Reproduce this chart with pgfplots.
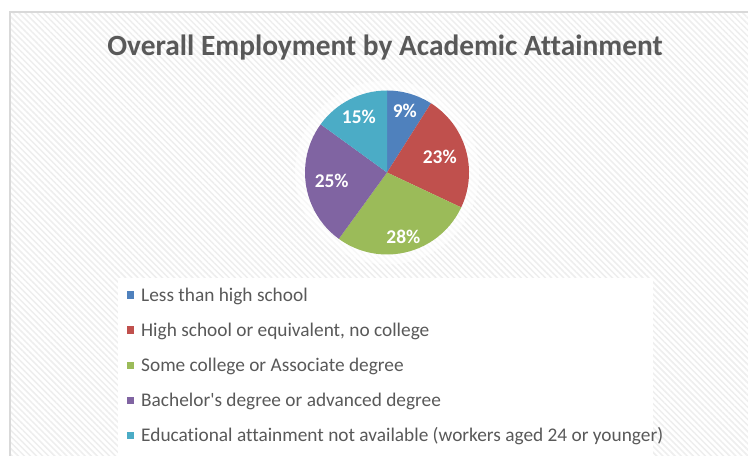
\documentclass[border=0pt]{standalone}
\usepackage{pgfplots}
\pgfplotsset{compat=1.18}
\usepackage{pgfplotstable}
\usetikzlibrary{patterns.meta}
\usepackage{fontspec}
\setmainfont{Carlito}[Ligatures={TeXOff,CommonOff}]

\definecolor{txtgray}{HTML}{595959}
\definecolor{framegray}{HTML}{D9D9D9}
\definecolor{hatch}{HTML}{EEEEEE}
\definecolor{c0}{HTML}{4F81BD}
\definecolor{c1}{HTML}{C0504D}
\definecolor{c2}{HTML}{9BBB59}
\definecolor{c3}{HTML}{8064A2}
\definecolor{c4}{HTML}{4BACC6}

% share in percent; lr = distance of the value label from the centre
\pgfplotstableread{
share lr  name
9     64  {Less than high school}
23    55  {High school or equivalent, no college}
28    66  {Some college or Associate degree}
25    56  {Bachelor's degree or advanced degree}
15    62  {Educational attainment not available (workers aged 24 or younger)}
}\shares

% cumulative start/end angles, clockwise from 12 o'clock
\def\cum{0}
\pgfplotsforeachungrouped \i in {0,...,4}{%
  \pgfplotstablegetelem{\i}{share}\of\shares
  \let\v\pgfplotsretval
  \pgfplotstablegetelem{\i}{lr}\of\shares
  \let\r\pgfplotsretval
  \pgfplotstablegetelem{\i}{name}\of\shares
  \expandafter\let\csname sN\i\endcsname\pgfplotsretval
  \pgfmathsetmacro\a{90-3.6*\cum}
  \pgfmathsetmacro\b{90-3.6*(\cum+\v)}
  \pgfmathsetmacro\m{(\a+\b)/2}
  \expandafter\let\csname sA\i\endcsname\a
  \expandafter\let\csname sB\i\endcsname\b
  \expandafter\let\csname sM\i\endcsname\m
  \expandafter\let\csname sV\i\endcsname\v
  \expandafter\let\csname sR\i\endcsname\r
  \pgfmathsetmacro\cum{\cum+\v}%
}
\newcommand\sA[1]{\csname sA#1\endcsname}
\newcommand\sB[1]{\csname sB#1\endcsname}
\newcommand\sM[1]{\csname sM#1\endcsname}
\newcommand\sV[1]{\csname sV#1\endcsname}
\newcommand\sR[1]{\csname sR#1\endcsname}
\newcommand\sN[1]{\csname sN#1\endcsname}

\def\cx{387}
\def\cy{283.5}
\def\rad{82}

\begin{document}
\begin{tikzpicture}
\begin{axis}[
  at={(0,0)}, anchor=south west,
  width=748bp, height=456bp, scale only axis,
  xmin=0, xmax=748, ymin=0, ymax=456,
  enlargelimits=false, hide axis, clip=true,
]
% page and chart area
\fill[white] (axis cs:0,0) rectangle (axis cs:748,456);
\fill[pattern={Lines[angle=-45,distance=4.3bp,line width=1.5bp]}, pattern color=hatch]
  (axis cs:10,-10) rectangle (axis cs:760,444);
\draw[framegray, line width=1.2bp] (axis cs:10,-10) -- (axis cs:10,444) -- (axis cs:760,444);

% title
\node[font=\fontsize{29.5}{34}\selectfont\bfseries, text=txtgray, anchor=base]
  at (axis cs:385,400) {Overall Employment by Academic Attainment};

% soft light area behind the pie
\fill[white, opacity=0.55] (axis cs:\cx,\cy) circle[radius=92bp];

% slices
\pgfplotsinvokeforeach{0,...,4}{
  \fill[c#1] (axis cs:\cx,\cy)
    -- (axis cs:{\cx+\rad*cos(\sA{#1})},{\cy+\rad*sin(\sA{#1})})
    arc[start angle=\sA{#1}, end angle=\sB{#1}, radius=\rad bp] -- cycle;
}
\pgfplotsinvokeforeach{0,...,4}{
  \node[font=\fontsize{19.5}{23}\selectfont\bfseries, text=white]
    at (axis cs:{\cx+\sR{#1}*cos(\sM{#1})},{\cy+\sR{#1}*sin(\sM{#1})}) {\sV{#1}\%};
}

% legend
\fill[white] (axis cs:118,178) rectangle (axis cs:653,-5);
\pgfplotsinvokeforeach{0,...,4}{
  \fill[c#1] (axis cs:126.8,{161-35.2*#1-3.7}) rectangle (axis cs:134.2,{161-35.2*#1+3.7});
  \node[font=\fontsize{19.4}{23}\selectfont, text=txtgray, anchor=base west, inner sep=0pt]
    at (axis cs:141,{161-35.2*#1-6.1}) {\sN{#1}};
}
\end{axis}
\end{tikzpicture}
\end{document}
